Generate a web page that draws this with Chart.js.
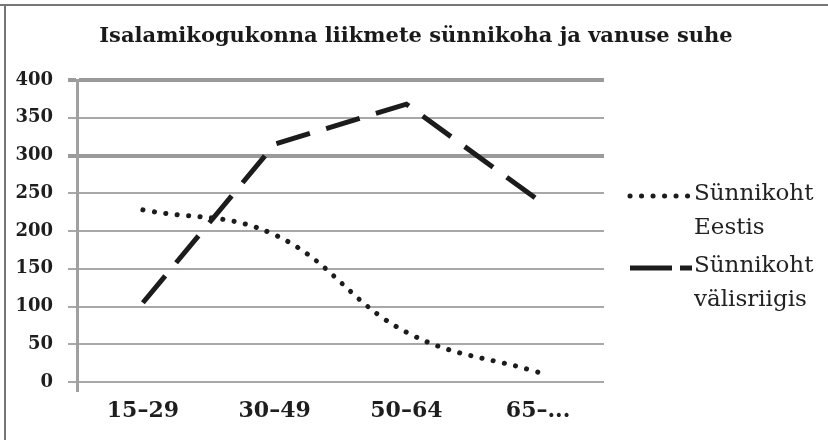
<!DOCTYPE html>
<html><head><meta charset="utf-8">
<script src="https://cdn.jsdelivr.net/npm/chart.js@4.4.0/dist/chart.umd.min.js"></script>
<style>html,body{margin:0;padding:0;background:#fff;} #wrap{width:828px;height:440px;position:relative;}</style>
</head><body><div id="wrap"><canvas id="c" width="828" height="440"></canvas></div>
<script>
const categories = ['15–29', '30–49', '50–64', '65–...'];
const bornEstonia = [228, 195, 66, 13];
const bornAbroad = [105, 315, 368, 241];
const seriesLabels = [['Sünnikoht', 'Eestis'], ['Sünnikoht', 'välisriigis']];
const yMin = 0, yMax = 400, yStep = 50;
const titleText = 'Isalamikogukonna liikmete sünnikoha ja vanuse suhe';

const SERIF = '"DejaVu Serif", "Liberation Serif", serif';

const framePlugin = {
  id: 'frame',
  beforeDraw(chart) {
    const ctx = chart.ctx;
    ctx.save();
    ctx.strokeStyle = '#767676';
    ctx.lineWidth = 2;
    ctx.beginPath();
    ctx.moveTo(0, 5); ctx.lineTo(chart.width, 5);
    ctx.moveTo(5, 5); ctx.lineTo(5, chart.height);
    ctx.stroke();
    ctx.restore();
  }
};

const titlePlugin = {
  id: 'customTitle',
  afterDraw(chart) {
    const ctx = chart.ctx;
    ctx.save();
    ctx.fillStyle = '#1a1a1a';
    ctx.font = 'bold 21px ' + SERIF;
    ctx.textAlign = 'center';
    ctx.textBaseline = 'middle';
    ctx.fillText(titleText, 416, 37);
    ctx.restore();
  }
};

const legendPlugin = {
  id: 'customLegend',
  afterDraw(chart) {
    const ctx = chart.ctx;
    const items = [
      { y: 196, dash: [0.1, 11.4], cap: 'round', x0: 630, x1: 690 },
      { y: 268, dash: [42, 8], cap: 'butt', x0: 630, x1: 692 }
    ];
    ctx.save();
    chart.data.datasets.forEach((ds, i) => {
      const it = items[i];
      ctx.strokeStyle = ds.borderColor;
      ctx.lineWidth = ds.borderWidth;
      ctx.lineCap = it.cap;
      ctx.setLineDash(it.dash);
      ctx.beginPath();
      ctx.moveTo(it.x0, it.y); ctx.lineTo(it.x1, it.y);
      ctx.stroke();
      ctx.setLineDash([]);
      ctx.fillStyle = '#222';
      ctx.font = '23px ' + SERIF;
      ctx.textAlign = 'left';
      ctx.textBaseline = 'middle';
      seriesLabels[i].forEach((line, j) => {
        ctx.fillText(line, 694, it.y - 2 + j * 34);
      });
    });
    ctx.restore();
  }
};

new Chart(document.getElementById('c'), {
  type: 'line',
  data: {
    labels: categories,
    datasets: [
      {
        label: seriesLabels[0].join(' '),
        data: bornEstonia,
        borderColor: '#1c1c1c',
        borderWidth: 5,
        borderDash: [0.1, 11.4],
        borderCapStyle: 'round',
        tension: 0.4,
        pointRadius: 0,
        fill: false
      },
      {
        label: seriesLabels[1].join(' '),
        data: bornAbroad,
        borderColor: '#1c1c1c',
        borderWidth: 5,
        borderDash: [35, 17],
        borderCapStyle: 'butt',
        borderJoinStyle: 'miter',
        tension: 0,
        pointRadius: 0,
        fill: false
      }
    ]
  },
  options: {
    responsive: false,
    animation: false,
    layout: { padding: { left: 0, right: 224, top: 80, bottom: 0 } },
    plugins: {
      legend: { display: false },
      tooltip: { enabled: false },
      title: { display: false }
    },
    scales: {
      x: {
        offset: true,
        border: { display: false },
        grid: {
          display: true,
          offset: true,
          drawOnChartArea: false,
          drawTicks: true,
          tickLength: 10,
          lineWidth: 3,
          color: (c) => c.index === 0 ? '#a0a0a0' : 'rgba(0,0,0,0)'
        },
        ticks: {
          color: '#1e1e1e',
          font: { family: SERIF, size: 22, weight: 'bold' },
          padding: 6,
          maxRotation: 0
        },
        afterFit(scale) { scale.height = 58; }
      },
      y: {
        min: yMin,
        max: yMax,
        border: { display: true, color: '#a0a0a0', width: 3 },
        grid: {
          color: (c) => (c.tick && (c.tick.value === 400 || c.tick.value === 300)) ? '#9a9a9a' : '#a8a8a8',
          lineWidth: (c) => (c.tick && (c.tick.value === 400 || c.tick.value === 300)) ? 4 : 2,
          tickLength: 9,
          drawTicks: true
        },
        ticks: {
          stepSize: yStep,
          color: '#1e1e1e',
          font: { family: SERIF, size: 18, weight: 'bold' },
          padding: 15
        },
        afterFit(scale) { scale.width = 77; }
      }
    }
  },
  plugins: [framePlugin, titlePlugin, legendPlugin]
});
</script>
</body></html>
